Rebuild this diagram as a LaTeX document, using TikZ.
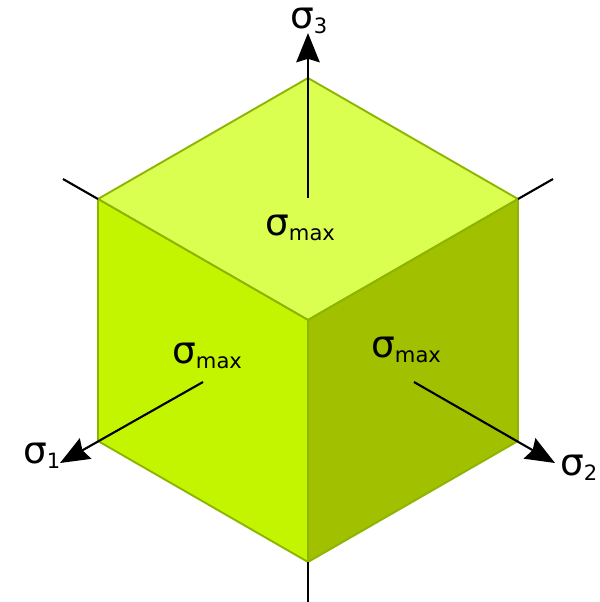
\documentclass[tikz,border=0pt]{standalone}
\usepackage{fontspec}
\setmainfont{DejaVu Sans}
\usetikzlibrary{arrows.meta}

\definecolor{topface}{RGB}{218,255,80}
\definecolor{leftface}{RGB}{196,245,0}
\definecolor{rightface}{RGB}{160,192,0}
\definecolor{cubeedge}{RGB}{140,180,0}

\newcommand{\sigsub}[1]{σ\raisebox{-4.5pt}{\fontsize{18}{20}\selectfont #1}}

\begin{document}
\begin{tikzpicture}[x=0.03cm, y=-0.03cm, font=\fontsize{32}{38}\selectfont,
    face/.style={draw=cubeedge, line width=1.6pt, line join=round},
    axis/.style={line width=1.8pt},
    stress/.style={axis, -{Stealth[length=25pt, width=20pt, inset=3pt]}},
    lbl/.style={anchor=base west, inner sep=0pt}]
    \useasboundingbox (0,0) rectangle (600,602);
    % Cube corners (isometric view)
    \coordinate (top) at (308,78);
    \coordinate (ul) at (98,199);
    \coordinate (ur) at (518,199);
    \coordinate (mid) at (308,320);
    \coordinate (ll) at (98,441);
    \coordinate (lr) at (518,441);
    \coordinate (bot) at (308,562);
    % Faces
    \filldraw[face, fill=topface] (top) -- (ur) -- (mid) -- (ul) -- cycle;
    \filldraw[face, fill=leftface] (ul) -- (mid) -- (bot) -- (ll) -- cycle;
    \filldraw[face, fill=rightface] (mid) -- (ur) -- (lr) -- (bot) -- cycle;
    % Labels
    \node[lbl] (max3) at (265,235) {\sigsub{max}};
    \node[lbl] (max1) at (172,363) {\sigsub{max}};
    \node[lbl] (max2) at (371,357) {\sigsub{max}};
    \node[lbl] (s3) at (290,28) {\sigsub{3}};
    \node[lbl] (s1) at (23,463) {\sigsub{1}};
    \node[lbl] (s2) at (560,475) {\sigsub{2}};
    % Stress axes
    \coordinate (a3) at (308,198);
    \coordinate (t3) at (308,33);
    \coordinate (a1) at (203,382);
    \coordinate (t1) at (60,463);
    \coordinate (a2) at (414,382);
    \coordinate (t2) at (555,463);
    \draw[stress] (a3) -- (t3);
    \draw[stress] (a1) -- (t1);
    \draw[stress] (a2) -- (t2);
    % Hidden axis stubs
    \coordinate (e1) at (63,179);
    \coordinate (e2) at (553,179);
    \coordinate (e3) at (308,602);
    \draw[axis] (ul) -- (e1);
    \draw[axis] (ur) -- (e2);
    \draw[axis] (bot) -- (e3);
\end{tikzpicture}
\end{document}
